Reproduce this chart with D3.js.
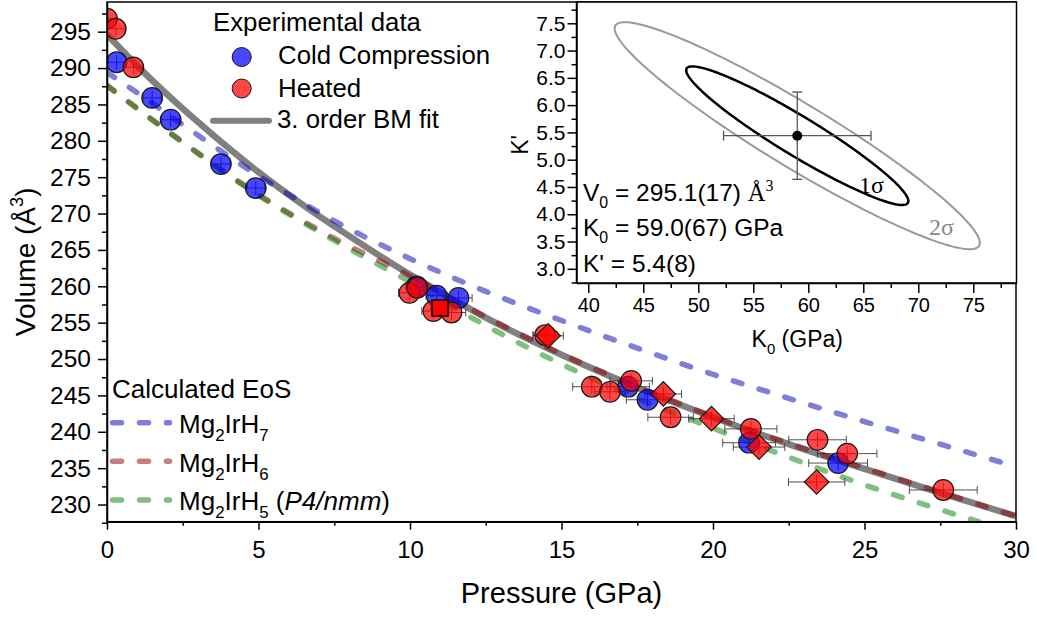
<!DOCTYPE html>
<html>
<head>
<meta charset="utf-8">
<script src="https://d3js.org/d3.v7.min.js"></script>
<style>
  body { margin: 0; background: #fff; }
  svg { font-family: "Liberation Sans", Arial, sans-serif; }
  .axis path, .axis line { stroke: #000; stroke-width: 1.5; }
  .axis text { fill: #000; font-family: "Liberation Sans", Arial, sans-serif; }
</style>
</head>
<body>
<script>

// ---- data ----
var fitP = [0, 1, 2, 3.5, 5, 6.5, 8, 10, 12.5, 15, 17.5, 20, 22.5, 25, 27.5, 30];
var fitV = [294.6, 290.3, 286.3, 280.8, 275.7, 271.1, 266.9, 261.6, 255.7, 250.6, 246.1, 242.0, 238.3, 234.9, 231.6, 228.4];

var h7P = [0, 1, 2.5, 5, 7.5, 10, 12.5, 15, 17.5, 20, 22.5, 25, 27.5, 30];
var h7V = [289.4, 286.6, 282.2, 275.2, 269.0, 263.8, 259.3, 255.3, 251.5, 247.9, 244.6, 241.4, 238.3, 235.2];

var h6P = [0, 2.5, 5, 7.5, 10, 12.5, 15, 17.5, 20, 22.5, 25, 27.5, 30];
var h6V = [287.6, 279.8, 272.6, 266.6, 261.4, 255.8, 250.7, 246.2, 242.1, 238.4, 235.0, 231.7, 228.4];

var h5P = [0, 2.5, 5, 7.5, 10, 12.5, 15, 17.5, 20, 22.5, 25, 27.5, 30];
var h5V = [287.6, 279.8, 272.5, 266.3, 260.6, 254.6, 249.3, 244.6, 240.5, 236.5, 232.7, 229.3, 226.1];

var coldP = [0.32, 1.49, 2.10, 3.76, 4.91, 10.22, 10.88, 11.6, 17.2, 17.84, 21.19, 24.13];
var coldV = [290.8, 285.9, 282.9, 276.8, 273.5, 260.0, 258.7, 258.4, 246.2, 244.4, 238.5, 235.7];
var coldE = [0.3, 0.3, 0.3, 0.3, 0.3, 0.35, 0.35, 0.45, 0.7, 0.7, 0.87, 0.97];

var heatP = [0.0, 0.29, 0.87, 9.98, 10.24, 10.77, 11.37, 14.46, 16.0, 16.6, 17.3, 18.6, 21.25, 23.45, 24.43, 27.6];
var heatV = [296.8, 295.4, 290.1, 259.1, 259.8, 256.6, 256.4, 253.3, 246.2, 245.5, 247.0, 242.0, 240.4, 238.9, 237.0, 232.0];
var heatE = [0.3, 0.3, 0.3, 0.36, 0.35, 0.38, 0.47, 0.4, 0.63, 0.5, 0.7, 0.75, 0.86, 0.95, 0.98, 1.12];

var squareP = [10.99], squareV = [257.0], squareE = [0.3];
var diamondP = [14.56, 18.36, 19.95, 21.52, 23.42];
var diamondV = [253.2, 245.2, 241.8, 237.9, 233.1];
var diamondE = [0.5, 0.6, 0.75, 0.85, 0.93];
var volErr = 1.0;

var xTicks = [0, 5, 10, 15, 20, 25, 30];
var yTicks = [230, 235, 240, 245, 250, 255, 260, 265, 270, 275, 280, 285, 290, 295];

// inset: K0 / K' confidence ellipses
var k0 = 59.0, kp = 5.44, k0Err = 6.7, kpErr = 0.8;
var sigma1 = [10.1, 1.27], sigma2 = [16.6, 2.08], rho = -0.944;
var insetXTicks = [40, 45, 50, 55, 60, 65, 70, 75];
var insetYTicks = [3.0, 3.5, 4.0, 4.5, 5.0, 5.5, 6.0, 6.5, 7.0, 7.5];

// ---- svg ----
var w = 1037, h = 618;
var svg = d3.select("body").append("svg").attr("width", w).attr("height", h);

var mL = 107, mR = 1016, mT = 2, mB = 521.7;
var x = d3.scaleLinear().domain([0, 30]).range([mL, mR]);
var y = d3.scaleLinear().domain([227.64, 299.08]).range([mB, mT]);

svg.append("clipPath").attr("id", "clip").append("rect")
  .attr("x", mL).attr("y", mT).attr("width", mR - mL).attr("height", mB - mT);
var plot = svg.append("g").attr("clip-path", "url(#clip)");

function pairs(a, b) { return a.map(function(d, i) { return [d, b[i]]; }); }

var line = d3.line()
  .x(function(d) { return x(d[0]); })
  .y(function(d) { return y(d[1]); })
  .curve(d3.curveMonotoneX);

// fit line
plot.append("path").attr("d", line(pairs(fitP, fitV)))
  .attr("fill", "none").attr("stroke", "#808080").attr("stroke-width", 6.5);

// calculated EoS, dashed and half transparent
var calc = [
  [h6P, h6V, "#8b0000"],
  [h5P, h5V, "#008000"],
  [h7P, h7V, "#0000b0"]
];
calc.forEach(function(c) {
  plot.append("path").attr("d", line(pairs(c[0], c[1])))
    .attr("fill", "none").attr("stroke", c[2]).attr("stroke-opacity", 0.5)
    .attr("stroke-width", 5.5).attr("stroke-linecap", "round")
    .attr("stroke-dasharray", "9 18");
});

// error bars
function errBars(P, V, E) {
  P.forEach(function(p, i) {
    var g = plot.append("g").attr("stroke", "#333").attr("stroke-width", 1).attr("stroke-opacity", 0.85);
    var x1 = x(p - E[i]), x2 = x(p + E[i]), yy = y(V[i]);
    g.append("line").attr("x1", x1).attr("x2", x2).attr("y1", yy).attr("y2", yy);
    g.append("line").attr("x1", x1).attr("x2", x1).attr("y1", yy - 4).attr("y2", yy + 4);
    g.append("line").attr("x1", x2).attr("x2", x2).attr("y1", yy - 4).attr("y2", yy + 4);
    var y1 = y(V[i] - volErr), y2 = y(V[i] + volErr), xx = x(p);
    g.append("line").attr("x1", xx).attr("x2", xx).attr("y1", y1).attr("y2", y2);
  });
}
errBars(coldP, coldV, coldE);
errBars(heatP, heatV, heatE);
errBars(squareP, squareV, squareE);
errBars(diamondP, diamondV, diamondE);

var redFill = "rgba(255,0,0,0.72)", blueFill = "rgba(0,0,255,0.72)";

plot.selectAll("circle.cold").data(pairs(coldP, coldV)).enter().append("circle")
  .attr("cx", function(d) { return x(d[0]); })
  .attr("cy", function(d) { return y(d[1]); })
  .attr("r", 10.3).attr("fill", blueFill).attr("stroke", "#1a1a1a").attr("stroke-width", 1.2);

plot.selectAll("circle.heat").data(pairs(heatP, heatV)).enter().append("circle")
  .attr("cx", function(d) { return x(d[0]); })
  .attr("cy", function(d) { return y(d[1]); })
  .attr("r", 10.3).attr("fill", redFill).attr("stroke", "#1a1a1a").attr("stroke-width", 1.2);

plot.selectAll("path.diamond").data(pairs(diamondP, diamondV)).enter().append("path")
  .attr("d", d3.symbol().type(d3.symbolSquare).size(300))
  .attr("transform", function(d) { return "translate(" + x(d[0]) + "," + y(d[1]) + ") rotate(45)"; })
  .attr("fill", "rgba(255,0,0,0.78)").attr("stroke", "#1a1a1a").attr("stroke-width", 1.2);

plot.selectAll("path.square").data(pairs(squareP, squareV)).enter().append("path")
  .attr("d", d3.symbol().type(d3.symbolSquare).size(256))
  .attr("transform", function(d) { return "translate(" + x(d[0]) + "," + y(d[1]) + ")"; })
  .attr("fill", "#f00").attr("stroke", "#000").attr("stroke-width", 1.5);

// frame
svg.append("rect").attr("x", mL).attr("y", mT).attr("width", mR - mL).attr("height", mB - mT)
  .attr("fill", "none").attr("stroke", "#000").attr("stroke-width", 1.5);

// axes
var xAxis = d3.axisBottom(x).tickValues(xTicks).tickSize(8).tickSizeOuter(0).tickPadding(11);
var gx = svg.append("g").attr("class", "axis").attr("transform", "translate(0," + mB + ")").call(xAxis);
gx.selectAll("text").style("font-size", "24px");
svg.append("g").attr("class", "axis").attr("transform", "translate(0," + mB + ")")
  .call(d3.axisBottom(x).tickValues(d3.range(2.5, 30, 5)).tickSize(4).tickSizeOuter(0).tickFormat(""))
  .select(".domain").remove();

var yAxis = d3.axisLeft(y).tickValues(yTicks).tickSize(9).tickSizeOuter(0).tickPadding(7);
var gy = svg.append("g").attr("class", "axis").attr("transform", "translate(" + mL + ",0)").call(yAxis);
gy.selectAll("text").style("font-size", "24.5px");
svg.append("g").attr("class", "axis").attr("transform", "translate(" + mL + ",0)")
  .call(d3.axisLeft(y).tickValues(d3.range(227.5, 299, 5)).tickSize(5).tickSizeOuter(0).tickFormat(""))
  .select(".domain").remove();

// rich text with sub / superscripts
function rich(g, px, py, parts, size) {
  var t = g.append("text").attr("x", px).attr("y", py).style("font-size", size + "px");
  var shift = 0;
  parts.forEach(function(p) {
    var target = p.sub ? size * 0.3 : (p.sup ? -size * 0.42 : 0);
    var sp = t.append("tspan").attr("dy", target - shift).text(p.t);
    shift = target;
    if (p.sub || p.sup) sp.style("font-size", (size * 0.65) + "px");
    if (p.it) sp.style("font-style", "italic");
    if (p.serif) sp.style("font-family", "'Liberation Serif', serif");
  });
  return t;
}

// axis titles
svg.append("text").attr("x", x(15)).attr("y", 603).attr("text-anchor", "middle")
  .style("font-size", "29px").text("Pressure (GPa)");
rich(svg, 0, 0, [{t: "Volume ("}, {t: "Å"}, {t: "3", sup: 1}, {t: ")"}], 28)
  .attr("text-anchor", "middle")
  .attr("transform", "translate(35," + ((mT + mB) / 2) + ") rotate(-90)");

// legend: experimental data
svg.append("text").attr("x", 213).attr("y", 31).style("font-size", "25.8px").text("Experimental data");
svg.append("circle").attr("cx", 241.7).attr("cy", 57).attr("r", 9.5).attr("fill", blueFill).attr("stroke", "#1a1a1a");
svg.append("text").attr("x", 278).attr("y", 64).style("font-size", "25.8px").text("Cold Compression");
svg.append("circle").attr("cx", 241.7).attr("cy", 88.5).attr("r", 9.5).attr("fill", redFill).attr("stroke", "#1a1a1a");
svg.append("text").attr("x", 278).attr("y", 96.5).style("font-size", "25.8px").text("Heated");
svg.append("line").attr("x1", 213).attr("x2", 269).attr("y1", 120.7).attr("y2", 120.7)
  .attr("stroke", "#808080").attr("stroke-width", 6).attr("stroke-linecap", "round");
svg.append("text").attr("x", 277).attr("y", 128).style("font-size", "25.8px").text("3. order BM fit");

// legend: calculated EoS
svg.append("text").attr("x", 112).attr("y", 398).style("font-size", "26px").text("Calculated EoS");
var calcLegend = [
  ["#0000b0", [{t: "Mg"}, {t: "2", sub: 1}, {t: "IrH"}, {t: "7", sub: 1}]],
  ["#8b0000", [{t: "Mg"}, {t: "2", sub: 1}, {t: "IrH"}, {t: "6", sub: 1}]],
  ["#008000", [{t: "Mg"}, {t: "2", sub: 1}, {t: "IrH"}, {t: "5", sub: 1}, {t: " ("}, {t: "P4/nmm", it: 1}, {t: ")"}]]
];
calcLegend.forEach(function(c, i) {
  var ly = 422.7 + i * 38.6;
  svg.append("line").attr("x1", 112.5).attr("x2", 169.5).attr("y1", ly).attr("y2", ly)
    .attr("stroke", c[0]).attr("stroke-opacity", 0.5).attr("stroke-width", 5.5)
    .attr("stroke-linecap", "round").attr("stroke-dasharray", "9 18");
  rich(svg, 179, ly + 10.5, c[1], 26);
});

// ---- inset ----
var iL = 576.5, iR = 1016.5, iT = 2, iB = 283;
var ix = d3.scaleLinear().domain([38.93, 78.93]).range([iL, iR]);
var iy = d3.scaleLinear().domain([2.74, 7.89]).range([iB, iT]);

svg.append("rect").attr("x", iL).attr("y", iT).attr("width", iR - iL).attr("height", iB - iT)
  .attr("fill", "#fff").attr("stroke", "#000").attr("stroke-width", 1.5);

function ellipse(s) {
  var pts = [];
  for (var i = 0; i <= 180; i++) {
    var t = 2 * Math.PI * i / 180;
    pts.push([k0 + s[0] * Math.cos(t), kp + s[1] * (rho * Math.cos(t) + Math.sqrt(1 - rho * rho) * Math.sin(t))]);
  }
  return pts;
}
var iline = d3.line().x(function(d) { return ix(d[0]); }).y(function(d) { return iy(d[1]); });
svg.append("path").attr("d", iline(ellipse(sigma2)) + "Z")
  .attr("fill", "none").attr("stroke", "#999").attr("stroke-width", 2);
svg.append("path").attr("d", iline(ellipse(sigma1)) + "Z")
  .attr("fill", "none").attr("stroke", "#000").attr("stroke-width", 2.5);

// central value with error bars
var eb = svg.append("g").attr("stroke", "#555").attr("stroke-width", 1.3);
eb.append("line").attr("x1", ix(k0 - k0Err)).attr("x2", ix(k0 + k0Err)).attr("y1", iy(kp)).attr("y2", iy(kp));
eb.append("line").attr("x1", ix(k0 - k0Err)).attr("x2", ix(k0 - k0Err)).attr("y1", iy(kp) - 5).attr("y2", iy(kp) + 5);
eb.append("line").attr("x1", ix(k0 + k0Err)).attr("x2", ix(k0 + k0Err)).attr("y1", iy(kp) - 5).attr("y2", iy(kp) + 5);
eb.append("line").attr("x1", ix(k0)).attr("x2", ix(k0)).attr("y1", iy(kp - kpErr)).attr("y2", iy(kp + kpErr));
eb.append("line").attr("x1", ix(k0) - 5).attr("x2", ix(k0) + 5).attr("y1", iy(kp - kpErr)).attr("y2", iy(kp - kpErr));
eb.append("line").attr("x1", ix(k0) - 5).attr("x2", ix(k0) + 5).attr("y1", iy(kp + kpErr)).attr("y2", iy(kp + kpErr));
svg.append("circle").attr("cx", ix(k0)).attr("cy", iy(kp)).attr("r", 5).attr("fill", "#000");

svg.append("text").attr("x", 859).attr("y", 193).style("font-family", "'Liberation Serif', serif")
  .style("font-size", "24px").attr("fill", "#000").text("1σ");
svg.append("text").attr("x", 929).attr("y", 235).style("font-family", "'Liberation Serif', serif")
  .style("font-size", "24px").attr("fill", "#888").text("2σ");

rich(svg, 583, 201, [{t: "V"}, {t: "0", sub: 1}, {t: " = 295.1(17) "}, {t: "Å", serif: 1}, {t: "3", sup: 1, serif: 1}], 24.5);
rich(svg, 583, 236, [{t: "K"}, {t: "0", sub: 1}, {t: " = 59.0(67) GPa"}], 24.5);
rich(svg, 583, 272, [{t: "K' = 5.4(8)"}], 24.5);

// inset axes
var gix = svg.append("g").attr("class", "axis").attr("transform", "translate(0," + iB + ")")
  .call(d3.axisBottom(ix).tickValues(insetXTicks).tickSize(10).tickSizeOuter(0).tickPadding(5));
gix.selectAll("text").style("font-size", "20px");
svg.append("g").attr("class", "axis").attr("transform", "translate(0," + iB + ")")
  .call(d3.axisBottom(ix).tickValues(d3.range(42.5, 79, 5)).tickSize(5).tickSizeOuter(0).tickFormat(""))
  .select(".domain").remove();

var giy = svg.append("g").attr("class", "axis").attr("transform", "translate(" + iL + ",0)")
  .call(d3.axisLeft(iy).tickValues(insetYTicks).tickSize(9).tickSizeOuter(0).tickPadding(2).tickFormat(d3.format(".1f")));
giy.selectAll("text").style("font-size", "21px");
svg.append("g").attr("class", "axis").attr("transform", "translate(" + iL + ",0)")
  .call(d3.axisLeft(iy).tickValues(d3.range(2.75, 7.9, 0.5)).tickSize(5).tickSizeOuter(0).tickFormat(""))
  .select(".domain").remove();

rich(svg, ix(59), 347, [{t: "K"}, {t: "0", sub: 1}, {t: " (GPa)"}], 23).attr("text-anchor", "middle");
svg.append("text").attr("text-anchor", "middle").style("font-size", "23px")
  .attr("transform", "translate(528,145) rotate(-90)").text("K'");

</script>
</body>
</html>
